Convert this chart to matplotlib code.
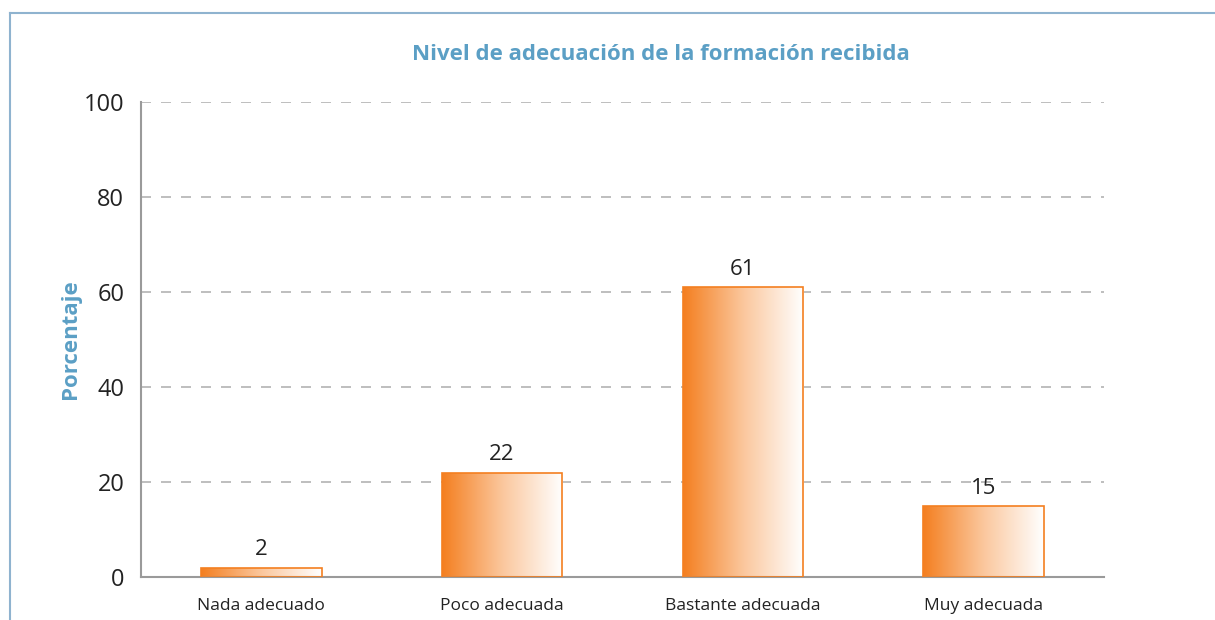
import numpy as np
import matplotlib
matplotlib.use('Agg')
import matplotlib.pyplot as plt
from matplotlib.colors import LinearSegmentedColormap
from matplotlib.patches import Rectangle

# Data
categories = ['Nada adecuado', 'Poco adecuada', 'Bastante adecuada', 'Muy adecuada']
values = [2, 22, 61, 15]
yticks = [0, 20, 40, 60, 80, 100]

plt.rcParams['font.family'] = ['Open Sans', 'DejaVu Sans']

orange = '#f47f20'
blue_title = '#5b9fc5'
cmap = LinearSegmentedColormap.from_list('og', [orange, '#fbc79d', '#ffffff'])

fig = plt.figure(figsize=(12.15, 6.2), dpi=100)
ax = fig.add_axes([141/1215, 43/620, 963/1215, 475/620])

# frame lines (top and left)
fig.add_artist(plt.Line2D([10/1215, 1], [1 - 13/620, 1 - 13/620], color='#8fb3cf', lw=1.5))
fig.add_artist(plt.Line2D([10/1215, 10/1215], [0, 1 - 13/620], color='#8fb3cf', lw=1.5))

x = np.arange(len(categories))
w = 0.5
grad = np.linspace(0, 1, 256).reshape(1, -1)
for xi, v in zip(x, values):
    rect = Rectangle((xi - w/2, 0), w, v, facecolor='none', edgecolor=orange, lw=1.2, zorder=3)
    ax.add_patch(rect)
    im = ax.imshow(grad, cmap=cmap, aspect='auto', extent=(xi - w/2, xi + w/2, 0, v), zorder=2)
    im.set_clip_path(rect)
    ax.text(xi, v + 1.5, str(v), ha='center', va='bottom', fontsize=16, color='#222222')

ax.set_xlim(-0.5, 3.5)
ax.set_ylim(0, 100)
ax.set_yticks(yticks)
ax.set_yticklabels([str(t) for t in yticks], fontsize=17, color='#222222')
ax.set_xticks(x)
ax.set_xticklabels(categories, fontsize=12.5, color='#222222')
ax.tick_params(axis='x', length=0, pad=15)
ax.tick_params(axis='y', length=0, pad=12)
ax.yaxis.grid(True, linestyle=(0, (6, 6)), color='#b3b3b3', lw=1.2)
ax.set_axisbelow(True)
for s in ['top', 'right']:
    ax.spines[s].set_visible(False)
for s in ['left', 'bottom']:
    ax.spines[s].set_color('#9a9a9a')
    ax.spines[s].set_linewidth(1.5)

ax.set_ylabel('Porcentaje', fontsize=16, fontweight='bold', color=blue_title, labelpad=2)
fig.text(661/1215, 1 - 55/620, 'Nivel de adecuación de la formación recibida',
         ha='center', va='center', fontsize=16, fontweight='bold', color=blue_title)

fig.savefig('out.png', dpi=100)
